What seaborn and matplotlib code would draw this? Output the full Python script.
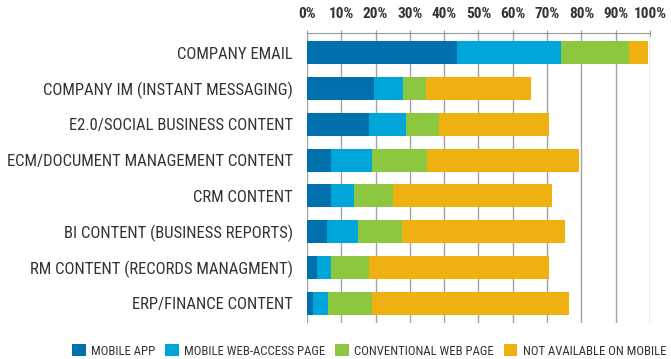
import seaborn as sns
import pandas as pd
from matplotlib import pyplot as plt
from matplotlib import font_manager as fm
from matplotlib.patches import Patch

# categories, top to bottom
categories = [
    "COMPANY EMAIL",
    "COMPANY IM (INSTANT MESSAGING)",
    "E2.0/SOCIAL BUSINESS CONTENT",
    "ECM/DOCUMENT MANAGEMENT CONTENT",
    "CRM CONTENT",
    "BI CONTENT (BUSINESS REPORTS)",
    "RM CONTENT (RECORDS MANAGMENT)",
    "ERP/FINANCE CONTENT",
]

# percentage shares per category
mobile_app = [43.7, 19.5, 18.1, 7.0, 7.0, 5.8, 2.9, 1.7]
mobile_web = [30.3, 8.5, 10.7, 11.9, 6.7, 9.1, 4.1, 4.4]
conventional_web = [19.8, 6.6, 9.8, 16.1, 11.3, 12.7, 11.1, 12.8]
not_available = [5.5, 30.6, 31.9, 44.2, 46.4, 47.5, 52.4, 57.4]

series_names = ["MOBILE APP", "MOBILE WEB-ACCESS PAGE", "CONVENTIONAL WEB PAGE", "NOT AVAILABLE ON MOBILE"]
series_colors = ["#0071ad", "#00a6da", "#8dc63f", "#eeb111"]
ticks = list(range(0, 101, 10))

sns.set_style("white")
names = {f.name for f in fm.fontManager.ttflist}
family = "Roboto Condensed" if "Roboto Condensed" in names else "DejaVu Sans"
plt.rcParams["font.family"] = [family, "DejaVu Sans"]
txt = "#333333"

df = pd.DataFrame({
    "Category": categories,
    series_names[0]: mobile_app,
    series_names[1]: mobile_web,
    series_names[2]: conventional_web,
    series_names[3]: not_available,
})
# cumulative totals so that the layers can be overlaid
cum = df[series_names].cumsum(axis=1)

fig = plt.figure(figsize=(6.71, 3.59), dpi=100)
ax = fig.add_axes([0.4575, 0.1003, 0.5112, 0.808])

# draw from the longest layer to the shortest
for name, color in reversed(list(zip(series_names, series_colors))):
    sns.barplot(x=cum[name], y=df["Category"], orient="h", color=color,
                width=0.64, saturation=1, ax=ax, zorder=3, linewidth=0)

ax.set_xlim(0, 100)
ax.set_ylim(7.55, -0.55)
ax.set_xlabel("")
ax.set_ylabel("")

# top axis with percent labels
ax.xaxis.tick_top()
ax.set_xticks(ticks)
ax.set_xticklabels([f"{t}%" for t in ticks], fontsize=11, fontweight="bold", color=txt)
ax.tick_params(axis="x", direction="inout", length=5, width=0.8, color="#999999", pad=6)
ax.tick_params(axis="y", length=0, pad=10, labelsize=12, labelcolor=txt)

ax.grid(axis="x", color="#a3a3a3", linewidth=1, zorder=0)
ax.grid(axis="y", visible=False)
for s in ["bottom", "left", "right"]:
    ax.spines[s].set_visible(False)
ax.spines["top"].set_color("#999999")
ax.spines["top"].set_linewidth(0.8)

handles = [Patch(facecolor=c, edgecolor="none") for c in series_colors]
fig.legend(handles, series_names, loc="center right", bbox_to_anchor=(0.993, 0.022), ncol=4,
           frameon=False, fontsize=9.2, handlelength=1.05, handleheight=1.05,
           handletextpad=0.45, columnspacing=0.75, labelcolor=txt,
           borderpad=0, borderaxespad=0)

fig.savefig("out.png", dpi=100)
